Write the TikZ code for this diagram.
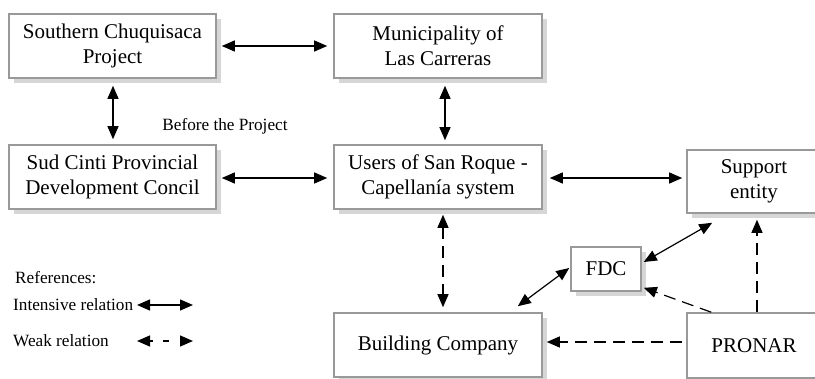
\documentclass[tikz,border=0pt]{standalone}
\usepackage{fontspec}
\setmainfont{Liberation Serif}
\usetikzlibrary{arrows.meta,shadows}
\begin{document}
\begin{tikzpicture}[x=1pt,y=-1pt,
 box/.style={draw=black!40, line width=1.6pt, fill=white, inner sep=0pt, align=center,
   font=\fontsize{21}{25}\selectfont,
   drop shadow={shadow xshift=5pt, shadow yshift=-5pt, fill=black!16, opacity=1}},
 intense/.style={line width=1.2pt, {Triangle[length=13pt,width=11pt]}-{Triangle[length=13pt,width=11pt]}},
 weak/.style={intense, dash pattern=on 12pt off 7pt},
 weakto/.style={line width=1.2pt, -{Triangle[length=13pt,width=11pt]}, dash pattern=on 12pt off 7pt},
 small/.style={font=\fontsize{17.2}{20}\selectfont, inner sep=0pt}]
\useasboundingbox (0,0) rectangle (815,379);

\node[box, minimum width=207pt, minimum height=64pt] (sc) at (112.5,46) {Southern Chuquisaca\\Project};
\node[box, minimum width=208pt, minimum height=64pt] (muni) at (438,46) {Municipality of\\Las Carreras};
\node[box, minimum width=207pt, minimum height=64pt] (sud) at (112.5,177) {Sud Cinti Provincial\\Development Concil};
\node[box, minimum width=208pt, minimum height=64pt] (users) at (438,177) {Users of San Roque -\\Capellanía system};
\node[box, minimum width=134pt, minimum height=63pt] (support) at (754,181.5) {Support\\entity};
\node[box, minimum width=70pt, minimum height=44pt] (fdc) at (606,269) {FDC};
\node[box, minimum width=208pt, minimum height=64pt] (building) at (438,345) {Building Company};
\node[box, minimum width=134pt, minimum height=65pt] (pronar) at (754,345.5) {PRONAR};

\node[small] (before) at (225,126) {Before the Project};

\draw[intense] ([shift={(5,0)}]sc.east) -- ([shift={(-6,0)}]muni.west);
\draw[intense] ([shift={(0.5,7)}]sc.south) -- ([shift={(0.5,-5)}]sud.north);
\draw[intense] ([shift={(7,7)}]muni.south) -- ([shift={(7,-4)}]users.north);
\draw[intense] ([shift={(5,1)}]sud.east) -- ([shift={(-6,1)}]users.west);
\draw[intense] ([shift={(7,1)}]users.east) -- ([shift={(-4,-3.5)}]support.west);
\draw[weak] ([shift={(5,5)}]users.south) -- ([shift={(5,-5)}]building.north);
\draw[intense] ([shift={(2,-7)}]fdc.east) -- ([shift={(26,9)}]support.south west);
\draw[intense] ([shift={(-1,-1)}]fdc.west) -- ([shift={(-25,-6)}]building.north east);
\draw[weakto] ([shift={(25,0)}]pronar.north west) -- ([shift={(2,-4)}]fdc.south east);
\draw[weakto] ([shift={(3,0)}]pronar.north) -- ([shift={(3,6)}]support.south);
\draw[weakto] ([shift={(-4,-3.5)}]pronar.west) -- ([shift={(4,-3)}]building.east);

\node[small, anchor=west] (ref) at (15,278) {References:};
\node[small, anchor=west] (int) at (13,305) {Intensive relation};
\node[small, anchor=west] (wk) at (13,341) {Weak relation};
\coordinate (i1) at (137,305);
\coordinate (i2) at (193,305);
\draw[intense] (i1) -- (i2);
\coordinate (w1) at (137,341);
\coordinate (w2) at (193,341);
\draw[intense, dash pattern=on 3pt off 10pt on 6pt off 40pt] (w1) -- (w2);
\end{tikzpicture}
\end{document}
